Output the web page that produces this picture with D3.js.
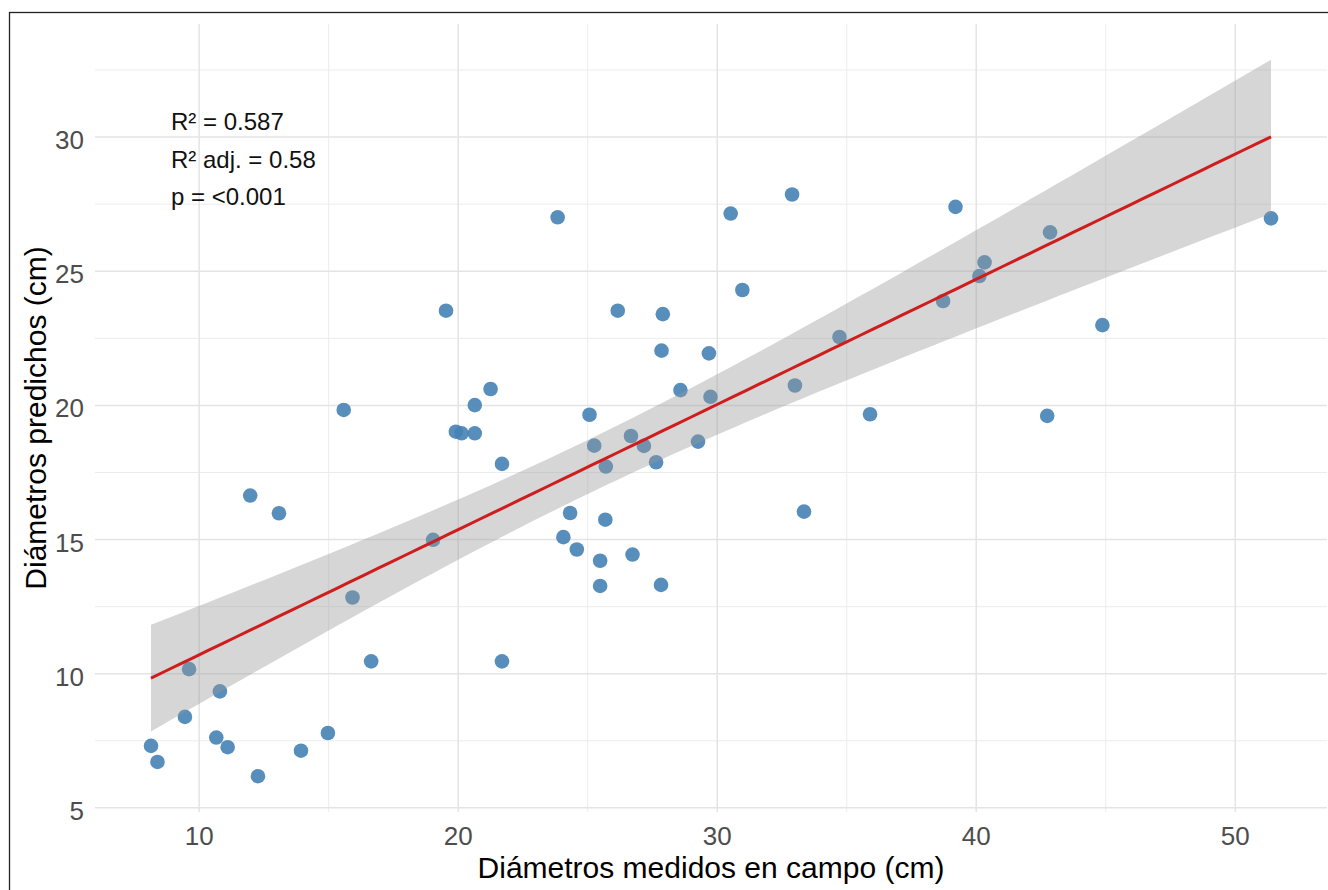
<!DOCTYPE html>
<html>
<head>
<meta charset="utf-8">
<script src="https://cdn.jsdelivr.net/npm/d3@7"></script>
<style>
  html, body { margin: 0; padding: 0; background: #ffffff; }
  svg { display: block; }
  text { font-family: "Liberation Sans", Arial, "DejaVu Sans", sans-serif; }
</style>
</head>
<body>
<svg id="chart" width="1328" height="890"></svg>
<script>
// ---- data ----
const measured = [8.14, 8.39, 9.45, 9.61, 10.80, 10.66, 11.10, 12.27, 13.93, 14.97,
  11.97, 13.08, 15.58, 15.92, 16.64, 19.03, 19.91, 20.13, 20.64, 20.64,
  21.25, 21.69, 21.69, 19.53, 23.84, 30.52, 32.89, 30.97, 26.16, 27.90,
  27.85, 29.68, 34.72, 28.58, 29.74, 33.00, 25.07, 25.25, 26.67, 27.17,
  25.70, 27.64, 29.26, 33.35, 24.32, 25.68, 24.06, 24.58, 25.48, 26.73,
  25.48, 27.83, 39.20, 42.85, 40.32, 40.12, 38.72, 35.90, 44.87, 42.74, 51.38];
const predicted = [7.31, 6.71, 8.39, 10.17, 9.34, 7.62, 7.26, 6.18, 7.13, 7.79,
  16.64, 15.98, 19.83, 12.84, 10.46, 14.99, 19.02, 18.96, 18.96, 20.01,
  20.61, 17.82, 10.46, 23.53, 27.01, 27.15, 27.86, 24.30, 23.53, 23.40,
  22.04, 21.94, 22.55, 20.57, 20.32, 20.74, 19.65, 18.50, 18.86, 18.49,
  17.72, 17.88, 18.65, 16.04, 15.99, 15.74, 15.09, 14.63, 14.21, 14.44,
  13.27, 13.31, 27.40, 26.45, 25.33, 24.82, 23.89, 19.67, 22.99, 19.61, 26.97];
const xTicks = [10, 20, 30, 40, 50];
const yTicks = [5, 10, 15, 20, 25, 30];
const statLabels = ["R² = 0.587", "R² adj. = 0.58", "p = <0.001"];
const xTitle = "Diámetros medidos en campo (cm)";
const yTitle = "Diámetros predichos (cm)";

// ---- linear model + 95% confidence band (as geom_smooth(method = "lm")) ----
const n = measured.length;
const xbar = d3.mean(measured), ybar = d3.mean(predicted);
let sxx = 0, sxy = 0;
for (let i = 0; i < n; i++) {
  sxx += (measured[i] - xbar) ** 2;
  sxy += (measured[i] - xbar) * (predicted[i] - ybar);
}
const slope = sxy / sxx;
const intercept = ybar - slope * xbar;
let sse = 0;
for (let i = 0; i < n; i++) sse += (predicted[i] - (intercept + slope * measured[i])) ** 2;
const sigma = Math.sqrt(sse / (n - 2));
const tcrit = 2.001; // qt(0.975, 59)
const [xMin, xMax] = d3.extent(measured);
const fit = d3.range(80).map(i => {
  const xv = xMin + (xMax - xMin) * i / 79;
  const yv = intercept + slope * xv;
  const se = sigma * Math.sqrt(1 / n + (xv - xbar) ** 2 / sxx);
  return { x: xv, y: yv, lo: yv - tcrit * se, hi: yv + tcrit * se };
});

// ---- layout ----
const W = 1328, H = 890;
const panel = { left: 95, right: 1327, top: 24, bottom: 812 };
const svg = d3.select("#chart");

const xPad = 0.05 * (xMax - xMin);
const yLow = Math.min(d3.min(predicted), d3.min(fit, d => d.lo));
const yHigh = Math.max(d3.max(predicted), d3.max(fit, d => d.hi));
const yPad = 0.05 * (yHigh - yLow);

const x = d3.scaleLinear().domain([xMin - xPad, xMax + xPad]).range([panel.left, panel.right]);
const y = d3.scaleLinear().domain([yLow - yPad, yHigh + yPad]).range([panel.bottom, panel.top]);

// outer frame
svg.append("rect")
  .attr("x", 9.5).attr("y", 12.5).attr("width", W + 20).attr("height", H + 20)
  .attr("fill", "none").attr("stroke", "#222").attr("stroke-width", 1.3);

// grid
const grid = svg.append("g");
const xMinor = d3.range(5, 60, 10).filter(v => v > x.domain()[0] && v < x.domain()[1]);
const yMinor = d3.range(2.5, 40, 5).filter(v => v > y.domain()[0] && v < y.domain()[1]);
grid.selectAll(".xminor").data(xMinor).join("line")
  .attr("x1", d => x(d)).attr("x2", d => x(d)).attr("y1", panel.top).attr("y2", panel.bottom)
  .attr("stroke", "#ececec").attr("stroke-width", 1);
grid.selectAll(".yminor").data(yMinor).join("line")
  .attr("x1", panel.left).attr("x2", panel.right).attr("y1", d => y(d)).attr("y2", d => y(d))
  .attr("stroke", "#ececec").attr("stroke-width", 1);
grid.selectAll(".xmajor").data(xTicks).join("line")
  .attr("x1", d => x(d)).attr("x2", d => x(d)).attr("y1", panel.top).attr("y2", panel.bottom)
  .attr("stroke", "#e4e4e4").attr("stroke-width", 1.5);
grid.selectAll(".ymajor").data(yTicks).join("line")
  .attr("x1", panel.left).attr("x2", panel.right).attr("y1", d => y(d)).attr("y2", d => y(d))
  .attr("stroke", "#e4e4e4").attr("stroke-width", 1.5);

// points
svg.append("g").selectAll("circle").data(d3.range(n)).join("circle")
  .attr("cx", i => x(measured[i])).attr("cy", i => y(predicted[i]))
  .attr("r", 7.3).attr("fill", "#4682b4").attr("fill-opacity", 0.9);

// confidence ribbon
svg.append("path").datum(fit)
  .attr("d", d3.area().x(d => x(d.x)).y0(d => y(d.lo)).y1(d => y(d.hi)))
  .attr("fill", "#999999").attr("fill-opacity", 0.4);

// fitted line
svg.append("path").datum(fit)
  .attr("d", d3.line().x(d => x(d.x)).y(d => y(d.y)))
  .attr("fill", "none").attr("stroke", "#cf1d1d").attr("stroke-width", 3);

// axis tick labels
svg.append("g").selectAll("text").data(xTicks).join("text")
  .attr("x", d => x(d)).attr("y", 845)
  .attr("text-anchor", "middle").attr("font-size", 26).attr("fill", "#4d4d4d")
  .text(d => d);
svg.append("g").selectAll("text").data(yTicks).join("text")
  .attr("x", 84).attr("y", d => y(d) + 12)
  .attr("text-anchor", "end").attr("font-size", 26).attr("fill", "#4d4d4d")
  .text(d => d);

// axis titles
svg.append("text")
  .attr("x", (panel.left + panel.right) / 2).attr("y", 878)
  .attr("text-anchor", "middle").attr("font-size", 30).attr("fill", "#000")
  .text(xTitle);
svg.append("text")
  .attr("transform", `translate(46,${(panel.top + panel.bottom) / 2}) rotate(-90)`)
  .attr("text-anchor", "middle").attr("font-size", 30).attr("fill", "#000")
  .text(yTitle);

// statistics annotation
svg.append("g").selectAll("text").data(statLabels).join("text")
  .attr("x", 171).attr("y", (d, i) => 130 + i * 37.5)
  .attr("font-size", 24).attr("fill", "#111")
  .text(d => d);
</script>
</body>
</html>
